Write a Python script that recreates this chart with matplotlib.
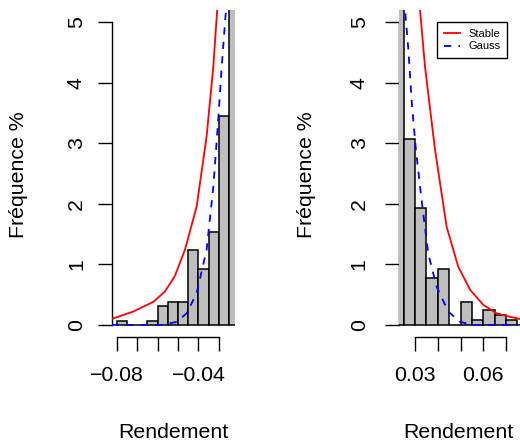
import numpy as np
import matplotlib
matplotlib.use("Agg")
import matplotlib.pyplot as plt

plt.rcParams['font.family'] = ['Liberation Sans', 'DejaVu Sans']
plt.rcParams['axes.unicode_minus'] = True

# --- left tail (negative returns) ---
left_edges = [-0.08, -0.075, -0.07, -0.065, -0.06, -0.055, -0.05, -0.045,
              -0.04, -0.035, -0.03, -0.025, -0.02]
left_freq = [0.07, 0.0, 0.0, 0.07, 0.31, 0.38, 0.38, 1.23, 0.92, 1.54, 3.45, 9.0]
left_stable_x = [-0.0823, -0.0719, -0.0621, -0.0564, -0.0515, -0.0466,
                 -0.0409, -0.0360, -0.0327, -0.0308, -0.0290]
left_stable_y = [0.10, 0.22, 0.38, 0.55, 0.81, 1.24, 1.95, 3.11, 4.27, 5.21, 6.2]
left_gauss_x = [-0.0823, -0.0580, -0.0506, -0.0458, -0.0409, -0.0360,
                -0.0327, -0.0302, -0.0286, -0.0265, -0.0240]
left_gauss_y = [0.0, 0.0, 0.05, 0.19, 0.52, 1.24, 2.28, 3.44, 4.27, 5.21, 7.0]
left_ticks = [-0.08, -0.07, -0.06, -0.05, -0.04, -0.03]
left_labels = ['\u22120.08', '', '', '', '\u22120.04', '']

# --- right tail (positive returns) ---
right_edges = [0.02, 0.025, 0.03, 0.035, 0.04, 0.045, 0.05, 0.055,
               0.06, 0.065, 0.07, 0.075]
right_freq = [9.0, 3.07, 1.93, 0.77, 0.93, 0.0, 0.38, 0.08, 0.24, 0.16, 0.08]
right_stable_x = [0.0310, 0.0322, 0.0344, 0.0388, 0.0439, 0.0490, 0.0542,
                  0.0600, 0.0659, 0.0710, 0.0770]
right_stable_y = [6.2, 5.21, 4.26, 2.89, 1.62, 0.96, 0.58, 0.33, 0.19, 0.14, 0.09]
right_gauss_x = [0.0240, 0.0256, 0.0271, 0.0285, 0.0304, 0.0329, 0.0358,
                 0.0395, 0.0446, 0.0498, 0.0556, 0.0770]
right_gauss_y = [7.0, 5.21, 4.54, 3.71, 2.89, 2.06, 1.18, 0.63, 0.22, 0.05, 0.0, 0.0]
right_ticks = [0.03, 0.04, 0.05, 0.06, 0.07]
right_labels = ['0.03', '', '', '0.06', '']

W, H = 520, 447
fig = plt.figure(figsize=(W / 100, H / 100), dpi=100)

def px_axes(x0, x1, y0, y1):
    return fig.add_axes([x0 / W, 1 - y1 / H, (x1 - x0) / W, (y1 - y0) / H])

FS = 15.3

def panel(ax, edges, freq, sx, sy, gx, gy, ticks, labels, xlim, ypad):
    edges = np.array(edges)
    ax.bar(edges[:-1], freq, width=np.diff(edges), align='edge',
           color='#BEBEBE', edgecolor='black', linewidth=1.1, zorder=3)
    ax.plot(sx, sy, color='#FF0000', lw=1.3, zorder=4, label='Stable')
    ax.plot(gx, gy, color='#0000FF', lw=1.3, dashes=(4, 4), zorder=4, label='Gauss')
    ax.set_xlim(*xlim)
    ax.set_ylim(-0.2, 5.2)
    for s in ['top', 'right']:
        ax.spines[s].set_visible(False)
    ax.spines['left'].set_bounds(0, 5)
    ax.spines['bottom'].set_bounds(ticks[0], ticks[-1])
    for s in ['left', 'bottom']:
        ax.spines[s].set_linewidth(1.0)
    ax.set_xticks(ticks)
    ax.set_xticklabels(labels)
    ax.set_yticks(range(6))
    ax.set_yticklabels([str(i) for i in range(6)], rotation=90, va='center')
    ax.tick_params(axis='both', direction='out', length=9.8, width=1.0,
                   labelsize=FS)
    ax.tick_params(axis='x', pad=11)
    ax.tick_params(axis='y', pad=ypad)
    ax.patch.set_visible(False)

ax1 = px_axes(112, 235, 10, 337)
panel(ax1, left_edges, left_freq, left_stable_x, left_stable_y,
      left_gauss_x, left_gauss_y, left_ticks, left_labels,
      (-0.0823, -0.0221), 9)

ax2 = px_axes(399, 522, 10, 337)
panel(ax2, right_edges, right_freq, right_stable_x, right_stable_y,
      right_gauss_x, right_gauss_y, right_ticks, right_labels,
      (0.02297, 0.0770), 12)

leg = ax2.legend(loc='upper left', bbox_to_anchor=(437 / W, 1 - 22 / H),
                 bbox_transform=fig.transFigure, fontsize=8, frameon=True,
                 fancybox=False, framealpha=1, edgecolor='black',
                 borderpad=0.6, borderaxespad=0, handlelength=1.5,
                 handletextpad=0.75, labelspacing=0.25)
leg.get_frame().set_linewidth(1.0)

for xc in (19, 306):
    fig.text(xc / W, 1 - 175 / H, 'Fréquence %', rotation=90,
             ha='center', va='center', fontsize=FS)
for xc in (173, 458):
    fig.text(xc / W, 1 - 433 / H, 'Rendement', ha='center', va='center',
             fontsize=FS)

fig.savefig('out.png', dpi=100)
